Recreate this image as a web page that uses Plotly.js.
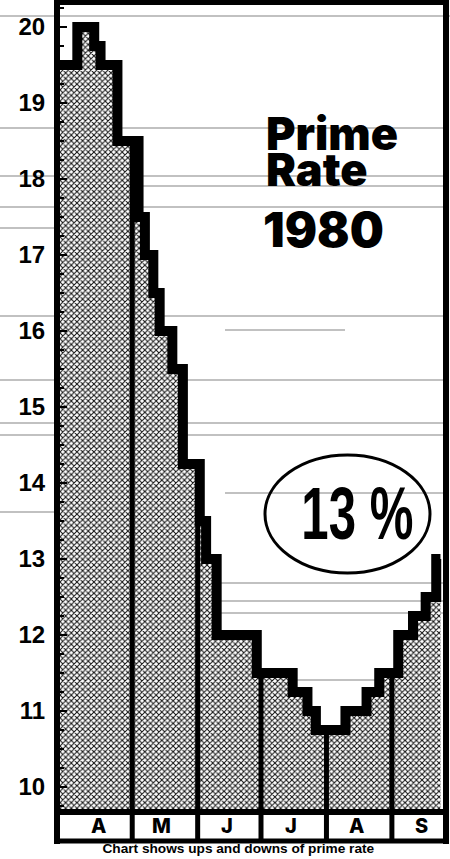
<!DOCTYPE html>
<html><head><meta charset="utf-8">
<script src="https://cdn.plot.ly/plotly-3.0.1.min.js"></script>
<style>html,body{margin:0;padding:0;background:#fff;overflow:hidden}#chart{width:450px;height:859px}</style>
</head><body><div id="chart"></div>
<script>
// ---- data ----
const changeDates = ['1980-03-27 19:00','1980-04-05','1980-04-13','1980-04-16','1980-04-24','1980-05-04','1980-05-07','1980-05-11','1980-05-14','1980-05-20','1980-05-25','1980-06-02','1980-06-05','1980-06-10','1980-06-29','1980-07-16','1980-07-23','1980-07-27','1980-08-10','1980-08-20','1980-08-26','1980-09-04','1980-09-11','1980-09-17','1980-09-22','1980-09-24'];
const primeRate   = [19.5,20,19.75,19.5,18.5,17.5,17,16.5,16,15.5,14.25,13.5,13,12,11.5,11.25,11,10.75,11,11.25,11.5,12,12.25,12.5,13,13];
const monthLabels = ['A','M','J','J','A','S'];
const monthStarts = ['1980-04-01','1980-05-01','1980-06-01','1980-07-01','1980-08-01','1980-09-01'];
const monthMids   = ['1980-04-15','1980-05-15','1980-06-15','1980-07-15','1980-08-15','1980-09-15'];
const yTicks = [10,11,12,13,14,15,16,17,18,19,20];
const titleLines = ['Prime','Rate'];
const yearLabel = '1980';
const currentRateLabel = '13 %';
const caption = 'Chart shows ups and downs of prime rate';

// ---- geometry ----
const W=450,H=859,L=60,R=7,T=5,B=50;
const PW=W-L-R, PH=H-T-B;
const px2x = p => (p-L)/PW;
const px2y = p => (H-B-p)/PH;
const yRange=[9.711,20.289];
const xRange=['1980-03-27 19:00','1980-09-25 05:00'];

function rateAt(d){
  const t=new Date(d.replace(' ','T')).getTime();
  let v=primeRate[0];
  for(let i=0;i<changeDates.length;i++){
    if(new Date(changeDates[i].replace(' ','T')).getTime()<=t) v=primeRate[i];
  }
  return v;
}

const traces=[];
traces.push({x:changeDates,y:primeRate,type:'scatter',mode:'lines',
  line:{shape:'hv',width:0,color:'rgba(0,0,0,0)'},fill:'tozeroy',
  fillcolor:'#777',
  fillpattern:{shape:'x',size:4,solidity:0.45,fgcolor:'#111',bgcolor:'#fff'},
  hoverinfo:'skip',showlegend:false});
monthStarts.slice(1).forEach(m=>{
  traces.push({x:[m,m],y:[yRange[0]-1,rateAt(m)],type:'scatter',mode:'lines',
    line:{width:5,color:'#000'},hoverinfo:'skip',showlegend:false});
});
traces.push({x:changeDates,y:primeRate,type:'scatter',mode:'lines',
  line:{shape:'hv',width:10,color:'#000'},hoverinfo:'skip',showlegend:false});

// scan-line artefacts of the printed page (decoration)
const scan=[[16,0,450],[128,0,445],[176,0,445],[186,140,445],[207,0,445],[228,0,55],[316,0,445],[330,225,345],[380,0,445],[423,0,445],[435,0,445],[493,225,445],[512,0,55],[583,200,445],[601,200,445],[613,220,445],[680,295,420]];
const shapes=[];
scan.forEach(s=>shapes.push({type:'line',xref:'paper',yref:'paper',x0:px2x(s[1]),x1:px2x(s[2]),y0:px2y(s[0]),y1:px2y(s[0]),line:{color:'rgba(30,30,30,0.55)',width:1.2},layer:'below'}));

const stripBot=px2y(841), stripTop=0;
shapes.push({type:'line',xref:'paper',yref:'paper',x0:px2x(57),x1:px2x(57),y0:0,y1:px2y(844),line:{color:'#000',width:6}});
shapes.push({type:'line',xref:'paper',yref:'paper',x0:px2x(446),x1:px2x(446),y0:0,y1:px2y(844),line:{color:'#000',width:6}});
shapes.push({type:'line',xref:'paper',yref:'paper',x0:px2x(54),x1:px2x(449),y0:stripBot,y1:stripBot,line:{color:'#000',width:5}});
monthStarts.slice(1).forEach(m=>shapes.push({type:'line',xref:'x',yref:'paper',x0:m,x1:m,y0:stripTop,y1:stripBot,line:{color:'#000',width:5}}));
shapes.push({type:'circle',xref:'paper',yref:'paper',x0:px2x(265),x1:px2x(430),y0:px2y(573),y1:px2y(455),line:{color:'#000',width:3}});

const heavy={family:'Inter, Lato, "Liberation Sans", sans-serif',weight:900,color:'#000'};
const annotations=[];
monthLabels.forEach((t,i)=>annotations.push({x:monthMids[i],y:px2y(826),xref:'x',yref:'paper',text:t,showarrow:false,yanchor:'middle',
  font:{family:'Inter, "Liberation Sans", Arial, sans-serif',weight:800,size:20,color:'#000'}}));
annotations.push({x:px2x(264),y:px2y(104),xref:'paper',yref:'paper',xanchor:'left',yanchor:'top',align:'left',text:titleLines.join('<br>'),showarrow:false,font:Object.assign({size:45},heavy)});
annotations.push({x:px2x(261),y:px2y(230),xref:'paper',yref:'paper',xanchor:'left',yanchor:'middle',text:yearLabel,showarrow:false,font:Object.assign({size:48},heavy)});
annotations.push({x:px2x(357),y:px2y(513),xref:'paper',yref:'paper',xanchor:'center',yanchor:'middle',text:currentRateLabel,showarrow:false,
  font:{family:'"Liberation Sans", sans-serif',weight:'bold',size:74,color:'#000'}});
annotations.push({x:px2x(238),y:px2y(858),xref:'paper',yref:'paper',xanchor:'center',yanchor:'bottom',text:caption,showarrow:false,
  font:{family:'"Liberation Sans", Arial, sans-serif',weight:'bold',size:13,color:'#000'}});

const layout={width:W,height:H,margin:{l:L,r:R,t:T,b:B,pad:0},paper_bgcolor:'#fff',plot_bgcolor:'rgba(0,0,0,0)',showlegend:false,
  xaxis:{type:'date',range:xRange,showgrid:false,zeroline:false,showticklabels:false,ticks:'',showline:true,mirror:true,linewidth:6,linecolor:'#000',fixedrange:true},
  yaxis:{range:yRange,tickvals:yTicks,ticktext:yTicks.map(String),showgrid:false,zeroline:false,ticks:'inside',ticklen:7,tickwidth:2,tickcolor:'#000',
    minor:{dtick:0.25,tick0:10,ticks:'inside',ticklen:4,tickwidth:1.5,tickcolor:'#000'},
    showline:true,mirror:true,linewidth:6,linecolor:'#000',ticklabelstandoff:4,
    tickfont:{family:'"Liberation Sans", Arial, sans-serif',weight:'bold',size:24,color:'#000'},fixedrange:true},
  shapes:shapes,annotations:annotations};

// condense a text horizontally (the print uses condensed type faces)
function condense(gd,label,targetW){
  gd.querySelectorAll('.annotation-text').forEach(t=>{
    if(t.textContent.replace(/\u00a0/g,' ')===label){
      const bb=t.getBBox(); const cx=bb.x+bb.width/2; const s=targetW/bb.width;
      t.setAttribute('transform','translate('+cx+',0) scale('+s+',1) translate('+(-cx)+',0)');
    }
  });
}
// tighten the leading of the two-line title, as set in the print
function tighten(gd,label,lead){
  gd.querySelectorAll('.annotation-text').forEach(t=>{
    if(t.textContent===label){
      const lines=t.querySelectorAll('tspan.line');
      for(let i=1;i<lines.length;i++) lines[i].setAttribute('dy',lead);
    }
  });
}
Plotly.newPlot('chart',traces,layout,{displayModeBar:false,staticPlot:true}).then(gd=>{
  condense(gd,currentRateLabel,112);
  condense(gd,caption,272);
  tighten(gd,titleLines.join(''),36);
});
</script></body></html>
